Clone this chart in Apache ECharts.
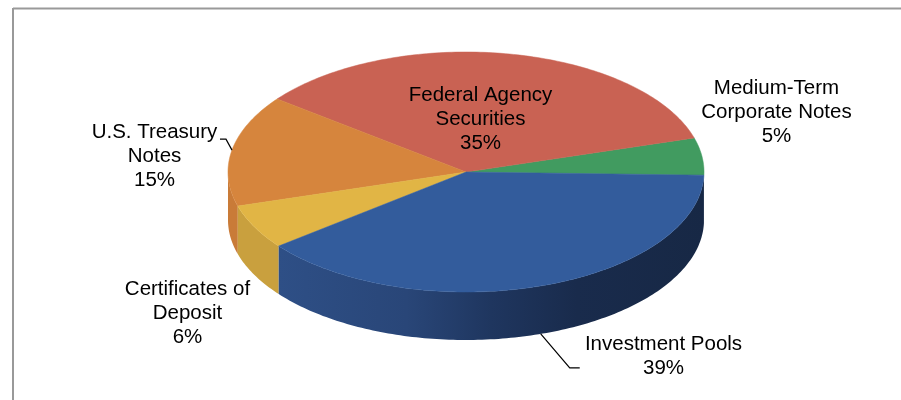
<!DOCTYPE html>
<html>
<head>
<meta charset="utf-8">
<style>html,body{margin:0;padding:0;background:#fff}#chart{width:901px;height:400px}</style>
<script src="https://cdn.jsdelivr.net/npm/echarts@6/dist/echarts.min.js"></script>
</head>
<body>
<div id="chart"></div>
<script>
// Portfolio allocation, listed counter-clockwise from the right-hand edge of the pie.
const categories = [
  'Medium-Term\nCorporate Notes',
  'Federal Agency\nSecurities',
  'U.S. Treasury\nNotes',
  'Certificates of\nDeposit',
  'Investment Pools'
];
const shares = [5, 35, 15, 6, 39];

const topColors = ['#419B60', '#C96253', '#D6853D', '#E1B545', '#335C9C'];
const wallColors = [
  '#2A6A42', '#8E4439', '#C97B38', '#C9A03E',
  { type: 'linear', x: 0, y: 0, x2: 1, y2: 0, colorStops: [
    { offset: 0, color: '#2E4F86' },
    { offset: 0.3, color: '#294678' },
    { offset: 0.5, color: '#1F365F' },
    { offset: 0.7, color: '#192B4C' },
    { offset: 1, color: '#172845' }
  ] }
];

// Projection of the tilted disc and the placement of its captions.
const pie = { cx: 466, cy: 172, rx: 238, ry: 120, depth: 48, startAngle: -1.5 };
const captions = [
  { x: 776.5, y: 112 },
  { x: 480.5, y: 119 },
  { x: 154.5, y: 156 },
  { x: 187.5, y: 313 },
  { x: 663.5, y: 356 }
];
// Elbow and tail of a leader line, relative to where it touches its slice.
const leaders = [
  null,
  null,
  { onWall: false, via: [[-6, -11], [-12, -11]] },
  null,
  { onWall: true, via: [[29, 34], [39, 34]] }
];

const total = shares.reduce((a, b) => a + b, 0);
const rad = d => d * Math.PI / 180;
const rimPoint = (deg, drop) => [
  pie.cx + pie.rx * Math.cos(rad(deg)),
  pie.cy - pie.ry * Math.sin(rad(deg)) + drop
];

function arcPoints(from, to, drop) {
  const n = Math.max(2, Math.ceil(Math.abs(to - from)));
  const pts = [];
  for (let i = 0; i <= n; i++) pts.push(rimPoint(from + (to - from) * i / n, drop));
  return pts;
}

function renderSlice(params, api) {
  const i = params.dataIndex;
  const before = shares.slice(0, i).reduce((a, b) => a + b, 0);
  const from = pie.startAngle + before / total * 360;
  const to = from + api.value(0) / total * 360;
  const children = [];

  // Only the part of the side wall facing the viewer (lower half of the ellipse) is visible.
  const spans = [[Math.max(from, 180), Math.min(to, 360)], [Math.max(from, -180), Math.min(to, 0)]];
  spans.forEach(([a, b]) => {
    if (b <= a) return;
    children.push({
      type: 'polygon',
      shape: { points: arcPoints(a, b, 0).concat(arcPoints(b, a, pie.depth)) },
      style: { fill: wallColors[i] }
    });
  });

  children.push({
    type: 'polygon',
    shape: { points: [[pie.cx, pie.cy]].concat(arcPoints(from, to, 0)) },
    style: { fill: topColors[i], stroke: topColors[i], lineWidth: 0.5 }
  });

  const leader = leaders[i];
  if (leader) {
    const p = rimPoint((from + to) / 2, leader.onWall ? pie.depth : 0);
    children.push({
      type: 'polyline',
      shape: { points: [p].concat(leader.via.map(v => [p[0] + v[0], p[1] + v[1]])) },
      style: { fill: null, stroke: '#000', lineWidth: 1.2 },
      z2: 5
    });
  }

  children.push({
    type: 'text',
    z2: 10,
    style: {
      text: categories[i] + '\n' + api.value(0) + '%',
      x: captions[i].x,
      y: captions[i].y,
      align: 'center',
      verticalAlign: 'middle',
      fontFamily: '"Liberation Sans", Arial, sans-serif',
      fontSize: 20.5,
      lineHeight: 24,
      fill: '#000'
    }
  });

  return { type: 'group', children };
}

const chart = echarts.init(document.getElementById('chart'), null, { renderer: 'canvas' });
chart.setOption({
  animation: false,
  backgroundColor: '#fff',
  graphic: [
    { type: 'line', shape: { x1: 13, y1: 8.5, x2: 901, y2: 8.5 }, style: { stroke: '#999', lineWidth: 2 } },
    { type: 'line', shape: { x1: 13, y1: 8, x2: 13, y2: 400 }, style: { stroke: '#999', lineWidth: 2 } }
  ],
  series: [{
    type: 'custom',
    coordinateSystem: 'none',
    silent: true,
    renderItem: renderSlice,
    data: shares.map(v => [v])
  }]
});
</script>
</body>
</html>
